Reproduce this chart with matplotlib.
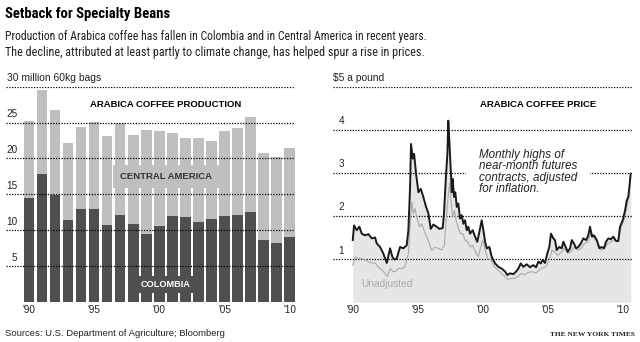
import matplotlib
matplotlib.use("Agg")
import matplotlib.pyplot as plt
import matplotlib.transforms as mtransforms
import numpy as np
import logging
logging.getLogger("matplotlib.font_manager").setLevel(logging.ERROR)

# ---------------- data ----------------
prod_years = list(range(1990, 2011))
colombia = [14.5, 17.9, 14.9, 11.5, 13.0, 12.9, 10.8, 12.1, 10.9, 9.5, 10.6,
            12.0, 11.8, 11.1, 11.6, 12.0, 12.2, 12.5, 8.7, 8.2, 9.1]
central_america = [10.7, 11.6, 11.9, 10.7, 11.4, 12.2, 12.3, 12.8, 12.4, 14.4, 13.2,
                   11.6, 11.1, 11.8, 10.8, 11.8, 12.1, 13.3, 12.0, 12.0, 12.3]
prod_ticks = [1990, 1995, 2000, 2005, 2010]
prod_tick_labels = ["'90", "'95", "'00", "'05", "'10"]
prod_grid = [5, 10, 15, 20, 25, 30]
prod_grid_labels = ["5", "10", "15", "20", "25", "30 million 60kg bags"]

adj_t = [1990.0, 1990.1, 1990.31, 1990.51, 1990.69, 1990.95, 1991.2, 1991.46, 1991.72, 1991.85,
         1992.1, 1992.35, 1992.62, 1992.87, 1993.05, 1993.2, 1993.38, 1993.64, 1993.89, 1994.15,
         1994.28, 1994.41, 1994.48, 1994.62, 1994.72, 1994.87, 1995.05, 1995.23, 1995.43, 1995.64,
         1995.82, 1996.0, 1996.2, 1996.46, 1996.66, 1996.92, 1997.02, 1997.15, 1997.28, 1997.35,
         1997.43, 1997.54, 1997.62, 1997.69, 1997.79, 1997.89, 1998.0, 1998.12, 1998.25, 1998.38,
         1998.51, 1998.64, 1998.77, 1998.89, 1999.02, 1999.23, 1999.41, 1999.58, 1999.74, 1999.92,
         2000.05, 2000.18, 2000.31, 2000.51, 2000.69, 2000.95, 2001.2, 2001.46, 2001.72, 2001.89,
         2002.1, 2002.35, 2002.56, 2002.74, 2002.92, 2003.12, 2003.38, 2003.64, 2003.89, 2004.1,
         2004.28, 2004.46, 2004.62, 2004.79, 2004.97, 2005.12, 2005.25, 2005.43, 2005.56, 2005.69,
         2005.89, 2006.08, 2006.2, 2006.38, 2006.54, 2006.72, 2006.85, 2007.02, 2007.18, 2007.35,
         2007.54, 2007.74, 2007.95, 2008.12, 2008.25, 2008.41, 2008.56, 2008.77, 2008.97, 2009.15,
         2009.33, 2009.48, 2009.66, 2009.85, 2010.05, 2010.25, 2010.43, 2010.56, 2010.77, 2010.95,
         2011.08, 2011.2, 2011.28, 2011.38]
adj_price = [1.44, 1.78, 1.67, 1.75, 1.59, 1.55, 1.58, 1.48, 1.50, 1.36,
             1.28, 1.13, 0.91, 1.25, 1.05, 0.99, 1.01, 1.28, 1.25, 1.32,
             1.67, 2.67, 3.67, 3.33, 3.44, 2.98, 2.55, 2.63, 2.44, 2.21,
             2.06, 1.70, 1.80, 1.75, 1.70, 1.72, 2.06, 2.82, 3.44, 4.21,
             3.75, 3.06, 2.55, 2.86, 2.44, 2.55, 2.21, 2.29, 1.94, 2.02,
             1.82, 1.90, 1.67, 1.75, 1.59, 1.67, 1.52, 1.40, 1.63, 1.90,
             1.67, 1.40, 1.25, 1.28, 1.05, 0.90, 0.82, 0.78, 0.71, 0.63,
             0.67, 0.65, 0.71, 0.78, 0.90, 0.82, 0.88, 0.81, 0.86, 0.81,
             0.94, 0.90, 0.98, 0.91, 1.13, 1.28, 1.59, 1.48, 1.44, 1.21,
             1.28, 1.25, 1.40, 1.28, 1.17, 1.25, 1.44, 1.36, 1.25, 1.28,
             1.36, 1.48, 1.44, 1.55, 1.75, 1.52, 1.55, 1.44, 1.25, 1.28,
             1.25, 1.40, 1.48, 1.46, 1.52, 1.42, 1.42, 1.75, 1.90, 2.13,
             2.36, 2.44, 2.67, 2.98]

unadj_t = [1990.0, 1990.18, 1990.43, 1990.69, 1990.95, 1991.2, 1991.46, 1991.72, 1991.97, 1992.23,
           1992.48, 1992.66, 1992.87, 1993.08, 1993.25, 1993.51, 1993.77, 1994.02, 1994.28, 1994.41,
           1994.54, 1994.66, 1994.79, 1994.92, 1995.12, 1995.3, 1995.48, 1995.69, 1995.89, 1996.08,
           1996.33, 1996.56, 1996.82, 1997.05, 1997.18, 1997.36, 1997.46, 1997.56, 1997.69, 1997.82,
           1997.95, 1998.08, 1998.28, 1998.46, 1998.64, 1998.84, 1999.05, 1999.23, 1999.43, 1999.66,
           1999.82, 1999.99, 2000.18, 2000.38, 2000.64, 2000.89, 2001.15, 2001.41, 2001.66, 2001.92,
           2002.18, 2002.43, 2002.69, 2002.95, 2003.2, 2003.46, 2003.72, 2004.1, 2004.48, 2004.87,
           2005.12, 2005.33, 2005.51, 2005.77, 2006.02, 2006.28, 2006.54, 2006.79, 2007.05, 2007.31,
           2007.56, 2007.82, 2008.08, 2008.33, 2008.59, 2008.84, 2009.1, 2009.36, 2009.62, 2009.87,
           2010.13, 2010.38, 2010.64, 2010.9, 2011.15, 2011.28, 2011.38]
unadj_price = [0.86, 1.05, 1.01, 1.01, 0.98, 0.94, 0.91, 0.91, 0.82, 0.75,
               0.67, 0.59, 0.78, 0.71, 0.71, 0.78, 0.78, 0.82, 1.13, 1.75,
               2.32, 2.06, 2.17, 1.98, 1.75, 1.82, 1.67, 1.52, 1.36, 1.20,
               1.28, 1.25, 1.21, 1.32, 1.90, 2.52, 2.75, 2.36, 1.98, 2.13,
               1.90, 1.75, 1.59, 1.59, 1.44, 1.40, 1.28, 1.32, 1.17, 1.05,
               1.25, 1.44, 1.21, 1.01, 0.98, 0.82, 0.75, 0.67, 0.61, 0.53,
               0.55, 0.55, 0.59, 0.67, 0.63, 0.68, 0.71, 0.68, 0.78, 0.82,
               0.98, 1.21, 1.17, 1.09, 1.15, 1.25, 1.13, 1.17, 1.28, 1.21,
               1.25, 1.36, 1.40, 1.63, 1.48, 1.40, 1.21, 1.25, 1.36, 1.40,
               1.46, 1.40, 1.73, 1.94, 2.32, 2.63, 2.90]
price_ticks = [1990, 1995, 2000, 2005, 2010.8]
price_tick_labels = ["'90", "'95", "'00", "'05", "'10"]
price_grid = [1, 2, 3, 4, 5]
price_grid_labels = ["1", "2", "3", "4", "$5 a pound"]

# ---------------- style ----------------
NARROW = ["Roboto Condensed", "Open Sans Condensed", "Liberation Sans", "DejaVu Sans"]
SANS = ["Liberation Sans", "DejaVu Sans"]
DARK = "#4f4f4f"
LIGHT = "#bfbfbf"
FILL = "#e6e6e6"
GRID_KW = dict(color="black", lw=0.9, linestyle=(0, (1, 1.2)))

W, H = 640, 342
fig = plt.figure(figsize=(W / 100, H / 100), dpi=100)
fig.patch.set_facecolor("white")
renderer = fig.canvas.get_renderer()


def fx(px):
    return px / W


def fy(py):
    return 1 - py / H


def fit_width(txt, target_px):
    w = txt.get_window_extent(renderer=renderer).width
    txt.set_fontsize(txt.get_fontsize() * target_px / w)


# headings
t = fig.text(fx(5), fy(14), "Setback for Specialty Beans", family=NARROW, weight="bold",
             fontsize=10, va="center", ha="left", color="black")
fit_width(t, 166)
t = fig.text(fx(5), fy(36.5), "Production of Arabica coffee has fallen in Colombia and in Central America in recent years.",
             family=NARROW, fontsize=8.4, va="center", ha="left", color="#222222")
fit_width(t, 420)
t = fig.text(fx(5), fy(52.5), "The decline, attributed at least partly to climate change, has helped spur a rise in prices.",
             family=NARROW, fontsize=8.4, va="center", ha="left", color="#222222")
fit_width(t, 418)
fig.text(fx(5), fy(334), "Sources: U.S. Department of Agriculture; Bloomberg",
         family=SANS, fontsize=6.8, va="center", ha="left", color="#222222")
fig.text(fx(635), fy(334), "THE NEW YORK TIMES", family=["Liberation Serif", "DejaVu Serif"],
         weight="bold", fontsize=5.4, va="center", ha="right", color="#222222")

top_px, bot_px = 86.6, 302.2

# ---------------- left: production ----------------
axL = fig.add_axes([fx(6), fy(bot_px), fx(295 - 6), (bot_px - top_px) / H])
axL.set_xlim(1988.23, 2010.41)
axL.set_ylim(0, 30)
axL.bar(prod_years, colombia, width=0.8, color=DARK, zorder=2)
axL.bar(prod_years, central_america, bottom=colombia, width=0.8, color=LIGHT, zorder=2)
for v in prod_grid:
    axL.axhline(v, zorder=3, **GRID_KW)
offL = mtransforms.offset_copy(axL.get_yaxis_transform(), fig=fig, x=0, y=3.5, units="dots")
for v, lab in zip(prod_grid, prod_grid_labels):
    if v == 30:
        axL.text(0.003, v, lab, transform=offL, ha="left", va="bottom", family=SANS,
                 fontsize=7.4, color="#222222")
    else:
        axL.text(0.04, v, lab, transform=offL, ha="right", va="bottom", family=SANS,
                 fontsize=7.2, color="#222222")
axL.text(0.552, 0.918, "ARABICA COFFEE PRODUCTION", transform=axL.transAxes, ha="center",
         va="center", family=SANS, weight="bold", fontsize=6.8, color="black")
axL.text(0.553, 0.583, "CENTRAL AMERICA", transform=axL.transAxes, ha="center", va="center",
         family=SANS, weight="bold", fontsize=6.8, color="#333333", zorder=5,
         bbox=dict(boxstyle="square,pad=0.75", fc=LIGHT, ec="none"))
axL.text(0.553, 0.083, "COLOMBIA", transform=axL.transAxes, ha="center", va="center",
         family=SANS, weight="bold", fontsize=6.6, color="white", zorder=5,
         bbox=dict(boxstyle="square,pad=0.45", fc=DARK, ec="none"))
axL.set_xticks(prod_ticks, prod_tick_labels, family=SANS, fontsize=7.2, color="#222222")
axL.set_yticks([])
axL.tick_params(axis="x", length=0, pad=2)
for s in axL.spines.values():
    s.set_visible(False)
axL.patch.set_alpha(0)

# ---------------- right: price ----------------
axR = fig.add_axes([fx(333), fy(bot_px), fx(633 - 333), (bot_px - top_px) / H])
axR.set_xlim(1988.48, 2011.56)
axR.set_ylim(0, 5)
axR.fill_between(adj_t, 0, adj_price, color=FILL, lw=0, zorder=1)
for v in price_grid:
    axR.axhline(v, zorder=2, **GRID_KW)
axR.plot(unadj_t, unadj_price, color="#aaaaaa", lw=0.8, zorder=3)
axR.plot(adj_t, adj_price, color="#1a1a1a", lw=1.4, zorder=4, solid_joinstyle="round")
offR = mtransforms.offset_copy(axR.get_yaxis_transform(), fig=fig, x=0, y=3.5, units="dots")
for v, lab in zip(price_grid, price_grid_labels):
    if v == 5:
        axR.text(-0.001, v, lab, transform=offR, ha="left", va="bottom", family=SANS,
                 fontsize=7.4, color="#222222")
    else:
        axR.text(0.028, v, lab, transform=offR, ha="center", va="bottom", family=SANS,
                 fontsize=7.2, color="#222222")
axR.text(0.683, 0.918, "ARABICA COFFEE PRICE", transform=axR.transAxes, ha="center",
         va="center", family=SANS, weight="bold", fontsize=6.8, color="black")
axR.text(0.487, 0.71, "Monthly highs of\nnear-month futures\ncontracts, adjusted\nfor inflation.",
         transform=axR.transAxes, ha="left", va="top", family=SANS, style="italic",
         fontsize=8.4, color="#222222", linespacing=0.93, zorder=5,
         bbox=dict(boxstyle="square,pad=1.1", fc="white", ec="none"))
axR.text(1992.6, 0.42, "Unadjusted", ha="center", va="center", family=SANS, fontsize=7.3,
         color="#a8a8a8", zorder=5)
axR.set_xticks(price_ticks, price_tick_labels, family=SANS, fontsize=7.2, color="#222222")
axR.set_yticks([])
axR.tick_params(axis="x", length=0, pad=2)
for s in axR.spines.values():
    s.set_visible(False)
axR.patch.set_alpha(0)

fig.savefig("out.png", dpi=100, facecolor="white")
